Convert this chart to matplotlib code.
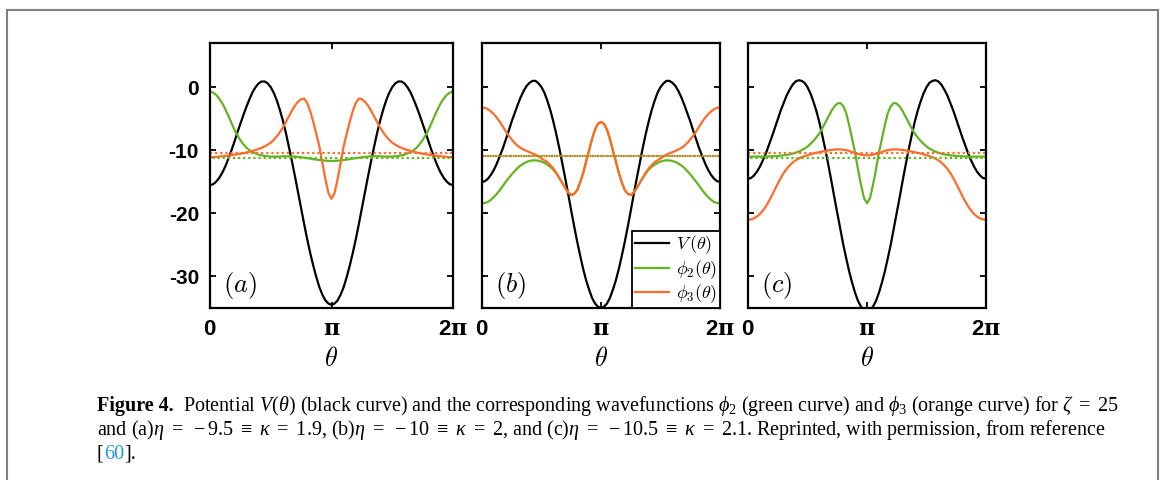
import numpy as np
import matplotlib
matplotlib.use("Agg")
import matplotlib.pyplot as plt
from matplotlib.patches import Rectangle

plt.rcParams['font.family'] = ['Liberation Sans', 'DejaVu Sans']
plt.rcParams['mathtext.fontset'] = 'custom'
plt.rcParams['mathtext.rm'] = 'Liberation Serif'
plt.rcParams['mathtext.it'] = 'Liberation Serif:italic'
plt.rcParams['mathtext.bf'] = 'DejaVu Serif:bold'
plt.rcParams['mathtext.sf'] = 'Liberation Sans:bold'
plt.rcParams['axes.unicode_minus'] = False

# theta grid, 0 .. 2pi in steps of pi/40
theta = np.linspace(0, 2 * np.pi, 81)

# potential V(theta)
V_a = [-15.5, -15.4, -15.0, -14.4, -13.6, -12.6, -11.4, -10.1, -8.7, -7.2, -5.8, -4.4, -3.1, -1.9, -0.8, 0.0, 0.6, 0.9, 0.9, 0.6,
       0.0, -0.9, -2.1, -3.6, -5.3, -7.3, -9.5, -11.8, -14.2, -16.7, -19.2, -21.7, -24.1, -26.3, -28.3, -30.1, -31.7, -32.9, -33.8, -34.3,
       -34.5,
       -34.3, -33.8, -32.9, -31.7, -30.1, -28.3, -26.3, -24.1, -21.7, -19.2, -16.7, -14.2, -11.8, -9.5, -7.3, -5.3, -3.6, -2.1, -0.9, 0.0,
       0.6, 0.9, 0.9, 0.6, 0.0, -0.8, -1.9, -3.1, -4.4, -5.8, -7.2, -8.7, -10.1, -11.4, -12.6, -13.6, -14.4, -15.0, -15.4, -15.5]
V_b = [-15.0, -14.9, -14.5, -13.9, -13.1, -12.1, -10.9, -9.7, -8.3, -6.9, -5.4, -4.1, -2.8, -1.6, -0.6, 0.2, 0.7, 1.0, 1.0, 0.6,
       0.0, -0.9, -2.2, -3.7, -5.5, -7.5, -9.7, -12.1, -14.5, -17.0, -19.6, -22.1, -24.5, -26.7, -28.8, -30.6, -32.1, -33.4, -34.3, -34.8,
       -35.0,
       -34.8, -34.3, -33.4, -32.1, -30.6, -28.8, -26.7, -24.5, -22.1, -19.6, -17.0, -14.5, -12.1, -9.7, -7.5, -5.5, -3.7, -2.2, -0.9, 0.0,
       0.6, 1.0, 1.0, 0.7, 0.2, -0.6, -1.6, -2.8, -4.1, -5.4, -6.9, -8.3, -9.7, -10.9, -12.1, -13.1, -13.9, -14.5, -14.9, -15.0]
V_c = [-14.5, -14.4, -14.0, -13.4, -12.6, -11.6, -10.5, -9.2, -7.9, -6.5, -5.1, -3.7, -2.5, -1.3, -0.4, 0.4, 0.9, 1.1, 1.0, 0.7,
       0.0, -1.0, -2.3, -3.8, -5.6, -7.7, -9.9, -12.3, -14.8, -17.4, -19.9, -22.4, -24.9, -27.1, -29.2, -31.0, -32.6, -33.9, -34.8, -35.3,
       -35.5,
       -35.3, -34.8, -33.9, -32.6, -31.0, -29.2, -27.1, -24.9, -22.4, -19.9, -17.4, -14.8, -12.3, -9.9, -7.7, -5.6, -3.8, -2.3, -1.0, 0.0,
       0.7, 1.0, 1.1, 0.9, 0.4, -0.4, -1.3, -2.5, -3.7, -5.1, -6.5, -7.9, -9.2, -10.5, -11.6, -12.6, -13.4, -14.0, -14.4, -14.5]

# wavefunctions phi_2 (green) and phi_3 (orange), drawn at their energies
phi2_a = [-0.7, -0.85, -1.2, -1.8, -2.5, -3.45, -4.5, -5.6, -6.7, -7.6, -8.4, -9.05, -9.6, -10.0, -10.3, -10.5, -10.7, -10.8, -10.9, -10.95,
          -11.0, -11.0, -11.0, -11.0, -10.95, -10.95, -10.95, -10.97, -11.0, -11.05, -11.1, -11.17, -11.25, -11.32, -11.4, -11.48, -11.55, -11.6, -11.65, -11.68,
          -11.7,
          -11.68, -11.65, -11.6, -11.55, -11.48, -11.4, -11.32, -11.25, -11.17, -11.1, -11.05, -11.0, -10.97, -10.95, -10.95, -10.95, -11.0, -11.0, -11.0, -11.0,
          -10.95, -10.9, -10.8, -10.7, -10.5, -10.3, -10.0, -9.6, -9.05, -8.4, -7.6, -6.7, -5.6, -4.5, -3.45, -2.5, -1.8, -1.2, -0.85, -0.7]
phi3_a = [-11.1, -11.08, -11.05, -11.0, -10.95, -10.9, -10.85, -10.78, -10.7, -10.63, -10.55, -10.45, -10.35, -10.23, -10.1, -9.96, -9.8, -9.62, -9.4, -9.12,
          -8.8, -8.35, -7.8, -7.15, -6.4, -5.5, -4.6, -3.7, -2.9, -2.3, -1.9, -1.8, -2.5, -3.8, -5.5, -7.4, -9.4, -12.0, -14.6, -16.8,
          -17.7,
          -16.8, -14.6, -12.0, -9.4, -7.4, -5.5, -3.8, -2.5, -1.8, -1.9, -2.3, -2.9, -3.7, -4.6, -5.5, -6.4, -7.15, -7.8, -8.35, -8.8,
          -9.12, -9.4, -9.62, -9.8, -9.96, -10.1, -10.23, -10.35, -10.45, -10.55, -10.63, -10.7, -10.78, -10.85, -10.9, -10.95, -11.0, -11.05, -11.08, -11.1]
phi2_b = [-18.4, -18.35, -18.2, -17.85, -17.4, -16.9, -16.3, -15.65, -15.0, -14.4, -13.8, -13.3, -12.8, -12.4, -12.1, -11.85, -11.7, -11.6, -11.6, -11.65,
          -11.8, -12.0, -12.3, -12.65, -13.1, -13.7, -14.4, -15.2, -16.0, -16.7, -17.1, -16.9, -16.3, -15.1, -13.6, -11.8, -10.0, -8.2, -6.7, -5.8,
          -5.5,
          -5.8, -6.7, -8.2, -10.0, -11.8, -13.6, -15.1, -16.3, -16.9, -17.1, -16.7, -16.0, -15.2, -14.4, -13.7, -13.1, -12.65, -12.3, -12.0, -11.8,
          -11.65, -11.6, -11.6, -11.7, -11.85, -12.1, -12.4, -12.8, -13.3, -13.8, -14.4, -15.0, -15.65, -16.3, -16.9, -17.4, -17.85, -18.2, -18.35, -18.4]
phi3_b = [-3.2, -3.28, -3.5, -3.85, -4.3, -4.85, -5.5, -6.25, -7.0, -7.7, -8.3, -8.85, -9.3, -9.63, -9.9, -10.1, -10.3, -10.5, -10.7, -10.98,
          -11.3, -11.6, -11.9, -12.35, -12.9, -13.6, -14.4, -15.2, -16.0, -16.7, -17.1, -16.9, -16.3, -15.1, -13.6, -11.8, -10.0, -8.2, -6.7, -5.8,
          -5.5,
          -5.8, -6.7, -8.2, -10.0, -11.8, -13.6, -15.1, -16.3, -16.9, -17.1, -16.7, -16.0, -15.2, -14.4, -13.6, -12.9, -12.35, -11.9, -11.6, -11.3,
          -10.98, -10.7, -10.5, -10.3, -10.1, -9.9, -9.63, -9.3, -8.85, -8.3, -7.7, -7.0, -6.25, -5.5, -4.85, -4.3, -3.85, -3.5, -3.28, -3.2]
phi2_c = [-11.0, -11.0, -11.0, -11.0, -11.0, -11.0, -11.0, -10.98, -10.95, -10.93, -10.9, -10.86, -10.8, -10.73, -10.65, -10.53, -10.4, -10.22, -10.0, -9.73,
          -9.4, -8.98, -8.5, -7.95, -7.3, -6.5, -5.6, -4.7, -3.8, -3.1, -2.6, -2.5, -3.0, -4.1, -6.0, -8.2, -10.4, -13.1, -15.5, -17.6,
          -18.4,
          -17.6, -15.5, -13.1, -10.4, -8.2, -6.0, -4.1, -3.0, -2.5, -2.6, -3.1, -3.8, -4.7, -5.6, -6.5, -7.3, -7.95, -8.5, -8.98, -9.4,
          -9.73, -10.0, -10.22, -10.4, -10.53, -10.65, -10.73, -10.8, -10.86, -10.9, -10.93, -10.95, -10.98, -11.0, -11.0, -11.0, -11.0, -11.0, -11.0, -11.0]
phi3_c = [-21.0, -20.95, -20.8, -20.5, -20.1, -19.55, -18.9, -18.1, -17.2, -16.25, -15.3, -14.4, -13.6, -12.95, -12.4, -11.95, -11.6, -11.33, -11.1, -10.93,
          -10.8, -10.65, -10.5, -10.4, -10.3, -10.2, -10.1, -10.02, -9.95, -9.9, -9.85, -9.86, -9.9, -9.98, -10.1, -10.28, -10.45, -10.6, -10.7, -10.77,
          -10.8,
          -10.77, -10.7, -10.6, -10.45, -10.28, -10.1, -9.98, -9.9, -9.86, -9.85, -9.9, -9.95, -10.02, -10.1, -10.2, -10.3, -10.4, -10.5, -10.65, -10.8,
          -10.93, -11.1, -11.33, -11.6, -11.95, -12.4, -12.95, -13.6, -14.4, -15.3, -16.25, -17.2, -18.1, -18.9, -19.55, -20.1, -20.5, -20.8, -20.95, -21.0]

# energy levels (dotted lines)
E2 = [-11.3, -10.9, -11.2]
E3 = [-10.45, -10.9, -10.4]

panel_labels = ['(a)', '(b)', '(c)']
yticks = [-30, -20, -10, 0]
ytick_labels = ['-30', '-20', '-10', '0']

green = '#62B521'
orange = '#FF6B2B'

W, H = 1163, 480
fig = plt.figure(figsize=(W / 100, H / 100), dpi=100)

# panel rectangles in pixels: left, right
boxes = [(210, 453), (482, 720), (748, 986)]
top_px, bot_px = 43, 308

Vs = [V_a, V_b, V_c]
phi2s = [phi2_a, phi2_b, phi2_c]
phi3s = [phi3_a, phi3_b, phi3_c]

for i in range(3):
    l, r = boxes[i]
    ax = fig.add_axes([l / W, 1 - bot_px / H, (r - l) / W, (bot_px - top_px) / H])
    ax.plot(theta, Vs[i], color='black', lw=1.6, label=r'$V\,(\theta)$')
    ax.plot(theta, phi2s[i], color=green, lw=1.6, label=r'$\phi_2(\theta)$')
    ax.plot(theta, phi3s[i], color=orange, lw=1.6, label=r'$\phi_3(\theta)$')
    ax.axhline(E2[i], color=green, lw=1.6, ls=(1.2, (1, 1.3)))
    ax.axhline(E3[i], color=orange, lw=1.6, ls=(0, (1, 1.3)))
    ax.set_xlim(0, 2 * np.pi)
    ax.set_ylim(-35, 7)
    ax.set_xticks([0, np.pi, 2 * np.pi])
    ax.set_xticklabels([r'$\mathsf{0}$', r'$\mathbf{\pi}$', r'$\mathsf{2}\mathbf{\pi}$'], fontsize=16)
    ax.set_yticks(yticks)
    if i == 0:
        ax.set_yticklabels(ytick_labels, fontsize=15, fontweight='bold')
    else:
        ax.set_yticklabels([])
    ax.tick_params(direction='in', length=4, width=1.3, top=True, right=True, pad=8)
    for s in ax.spines.values():
        s.set_linewidth(1.6)
    ax.set_xlabel(r'$\theta$', fontsize=19, math_fontfamily='cm', labelpad=5)
    ax.text(0.055, 0.085, '$' + panel_labels[i] + '$', transform=ax.transAxes,
            fontsize=19, math_fontfamily='cm', va='center', ha='left')
    if i == 1:
        leg = ax.legend(loc='lower right', borderaxespad=0, fancybox=False, framealpha=1,
                        edgecolor='black', fontsize=13, handlelength=1.9, handletextpad=0.4,
                        borderpad=0.15, labelspacing=0.1)
        leg.get_frame().set_linewidth(1.3)
        for t in leg.get_texts():
            t.set_math_fontfamily('cm')

# caption
cap_size = 14.5
renderer = fig.canvas.get_renderer()
x0 = 97 / W
t = fig.text(x0, 1 - 411 / H, 'Figure 4.', fontsize=cap_size, fontweight='bold',
             family='Liberation Serif', va='baseline')
bb = t.get_window_extent(renderer)
fig.text(bb.x1 / W + 9 / W, 1 - 411 / H,
         r'Potential $V(\theta)$ (black curve) and the corresponding wavefunctions $\phi_2$ (green curve) and $\phi_3$ (orange curve) for $\zeta\ =\ 25$',
         fontsize=cap_size, family='Liberation Serif', va='baseline')
fig.text(x0, 1 - 435 / H,
         r'and (a)$\eta\ =\ -9.5\ \equiv\ \kappa\ =\ 1.9$, (b)$\eta\ =\ -10\ \equiv\ \kappa\ =\ 2$, and (c)$\eta\ =\ -10.5\ \equiv\ \kappa\ =\ 2.1$. Reprinted, with permission, from reference',
         fontsize=cap_size, family='Liberation Serif', va='baseline')
xs = x0
for piece, col in [('[', 'black'), ('60', '#1E9BD7'), ('].', 'black')]:
    tt = fig.text(xs, 1 - 459 / H, piece, fontsize=cap_size, family='Liberation Serif',
                  va='baseline', color=col)
    xs = tt.get_window_extent(renderer).x1 / W

# grey frame around the figure
fig.add_artist(Rectangle((7 / W, -0.05), (1158 - 7) / W, 1.05 - 10 / H, transform=fig.transFigure,
                         fill=False, edgecolor='#808080', lw=1.5))

fig.savefig('out.png', dpi=100)
